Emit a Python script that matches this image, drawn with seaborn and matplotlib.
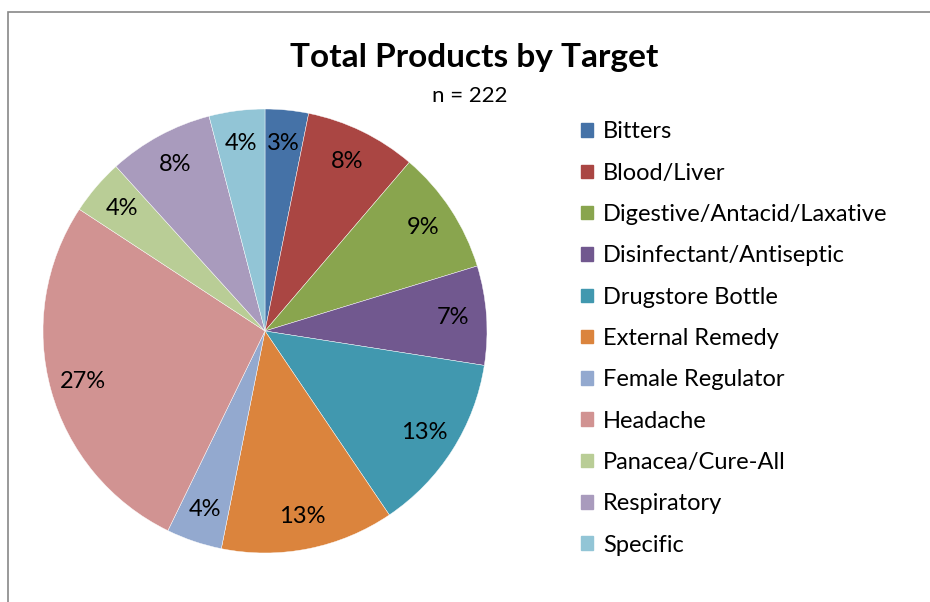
# 3rd party imports
import matplotlib
matplotlib.use('Agg')
import matplotlib.pyplot as plt
import matplotlib.patches as mpatches
import seaborn as sns

# data (n = 222)
targets = ['Bitters', 'Blood/Liver', 'Digestive/Antacid/Laxative', 'Disinfectant/Antiseptic',
           'Drugstore Bottle', 'External Remedy', 'Female Regulator', 'Headache',
           'Panacea/Cure-All', 'Respiratory', 'Specific']
counts = [7, 18, 20, 16, 29, 28, 9, 60, 9, 17, 9]
colours = ['#4572A7', '#AA4643', '#89A54E', '#71588F', '#4198AF', '#DB843D',
           '#93A9CF', '#D19392', '#B9CD96', '#A99BBD', '#92C5D6']

sns.set_theme(style = 'white')
plt.rcParams['font.family'] = ['Lato', 'DejaVu Sans']
plt.rcParams['text.color'] = 'black'
palette = sns.color_palette(colours)

W, H = 930, 602
fig = plt.figure(figsize = (W / 100, H / 100), dpi = 100)

# chart frame, runs off the right and bottom edges like the screenshot
fig.patches.append(mpatches.Rectangle((8 / W, -0.05), 1.1, 1.05 - 12 / H, transform = fig.transFigure,
                                      fill = False, edgecolor = '#888888', linewidth = 1.2))

cx, cy, r = 265, 331, 222
ax = fig.add_axes([(cx - r) / W, (H - cy - r) / H, 2 * r / W, 2 * r / H])
wedges, texts, autotexts = ax.pie(counts, colors = palette, startangle = 90, counterclock = False,
                                  autopct = '%.0f%%', pctdistance = 0.85, radius = 1,
                                  wedgeprops = dict(edgecolor = 'white', linewidth = 0.3),
                                  textprops = dict(fontsize = 17, color = 'black'))
ax.set_xlim(-1, 1)
ax.set_ylim(-1, 1)
ax.set_aspect('equal')
ax.axis('off')

fig.text(474 / W, 1 - 57 / H, 'Total Products by Target', ha = 'center', va = 'center',
         fontsize = 24, fontweight = 'bold', color = 'black')
fig.text(470 / W, 1 - 96 / H, 'n = 222', ha = 'center', va = 'center', fontsize = 16, color = 'black')

handles = [mpatches.Patch(color = c, label = t) for c, t in zip(palette, targets)]
fig.legend(handles = handles, loc = 'upper left', bbox_to_anchor = (572 / W, 1 - 112 / H),
           frameon = False, fontsize = 17, handlelength = 0.5, handleheight = 0.5,
           handletextpad = 0.42, labelspacing = 0.86, borderaxespad = 0, labelcolor = 'black')

plt.savefig('out.png', dpi = 100)
